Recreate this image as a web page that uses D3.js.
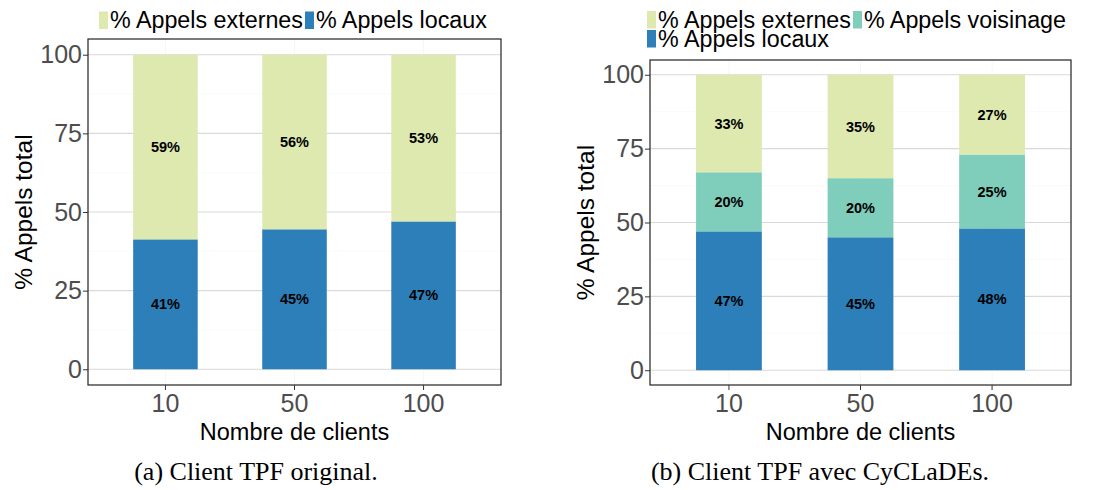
<!DOCTYPE html>
<html>
<head>
<meta charset="utf-8">
<script src="https://cdn.jsdelivr.net/npm/d3@7"></script>
<style>
  body { margin: 0; background: #fff; }
  svg { display: block; }
</style>
</head>
<body>
<div id="chart"></div>
<script>
const width = 1111, height = 490;

// data
const clients = ["10", "50", "100"];
const localA = [41.3, 44.5, 47];
const externA = [58.7, 55.5, 53];
const localB = [47, 45, 48];
const voisinB = [20, 20, 25];
const externB = [33, 35, 27];
const yTicks = [0, 25, 50, 75, 100];

const colors = {
  extern: "#dde9af",
  voisin: "#7fcdbb",
  local: "#2c7fb8"
};

const sans = "Liberation Sans, Arial, sans-serif";

const svg = d3.select("#chart").append("svg")
  .attr("width", width)
  .attr("height", height);

function panel(opts) {
  const {left, right, top, bottom, series, legendRows, caption, captionX} = opts;

  const x = d3.scaleLinear().domain([0.4, 3.6]).range([left, right]);
  const y = d3.scaleLinear().domain([-5, 105]).range([bottom, top]);
  const g = svg.append("g");

  // minor grid (very faint)
  g.append("g").selectAll("line").data([12.5, 37.5, 62.5, 87.5])
    .join("line")
    .attr("x1", left).attr("x2", right)
    .attr("y1", d => y(d)).attr("y2", d => y(d))
    .attr("stroke", "#f6f6f6").attr("stroke-width", 0.6);

  g.append("g").selectAll("line").data(clients)
    .join("line")
    .attr("x1", (d, i) => x(i + 1)).attr("x2", (d, i) => x(i + 1))
    .attr("y1", top).attr("y2", bottom)
    .attr("stroke", "#f6f6f6").attr("stroke-width", 1);

  // major grid
  g.append("g").selectAll("line").data(yTicks)
    .join("line")
    .attr("x1", left).attr("x2", right)
    .attr("y1", d => y(d)).attr("y2", d => y(d))
    .attr("stroke", "#d9d9d9").attr("stroke-width", 1.2);

  // stacked bars
  const rows = clients.map((c, i) => {
    const r = {i};
    series.forEach(s => { r[s.key] = s.values[i]; });
    return r;
  });
  const stack = d3.stack().keys(series.map(s => s.key))(rows);
  const barW = x(1.25) - x(0.75);

  stack.forEach(layer => {
    const s = series.find(s => s.key === layer.key);
    g.append("g").selectAll("rect").data(layer)
      .join("rect")
      .attr("x", (d, i) => x(i + 1) - barW / 2)
      .attr("width", barW)
      .attr("y", d => y(d[1]))
      .attr("height", d => y(d[0]) - y(d[1]))
      .attr("fill", s.color);

    g.append("g").selectAll("text").data(layer)
      .join("text")
      .attr("x", (d, i) => x(i + 1))
      .attr("y", d => y((d[0] + d[1]) / 2))
      .attr("dy", "0.35em")
      .attr("text-anchor", "middle")
      .attr("font-family", sans)
      .attr("font-weight", "bold")
      .attr("font-size", 14.5)
      .attr("fill", "#000")
      .text(d => Math.round(d[1] - d[0]) + "%");
  });

  // panel border
  g.append("rect")
    .attr("x", left).attr("y", top)
    .attr("width", right - left).attr("height", bottom - top)
    .attr("fill", "none")
    .attr("stroke", "#222").attr("stroke-width", 1.2);

  // y axis
  const yAxis = g.append("g")
    .attr("transform", `translate(${left},0)`)
    .call(d3.axisLeft(y).tickValues(yTicks).tickSize(5).tickPadding(1));
  yAxis.select(".domain").remove();
  yAxis.selectAll("line").attr("stroke", "#333");
  yAxis.selectAll("text")
    .attr("font-family", sans)
    .attr("font-size", 25).attr("fill", "#4d4d4d");

  // x axis
  const xb = d3.scaleBand().domain(clients)
    .range([x(0.5), x(3.5)]);
  const xAxis = g.append("g")
    .attr("transform", `translate(0,${bottom})`)
    .call(d3.axisBottom(xb).tickSize(5).tickPadding(4));
  xAxis.select(".domain").remove();
  xAxis.selectAll("line").attr("stroke", "#333");
  xAxis.selectAll("text")
    .attr("font-family", sans)
    .attr("font-size", 25).attr("fill", "#4d4d4d");

  // axis titles
  g.append("text")
    .attr("x", (left + right) / 2).attr("y", 440)
    .attr("text-anchor", "middle")
    .attr("font-family", sans)
    .attr("font-size", 23.5).attr("fill", "#000")
    .text("Nombre de clients");

  g.append("text")
    .attr("transform", `translate(${left - 65},${(top + bottom) / 2}) rotate(-90)`)
    .attr("text-anchor", "middle")
    .attr("dy", "0.35em")
    .attr("font-family", sans)
    .attr("font-size", 24.5).attr("fill", "#000")
    .text("% Appels total");

  // legend
  legendRows.forEach(row => {
    let cx = row.x;
    row.items.forEach(item => {
      g.append("rect")
        .attr("x", cx).attr("y", row.y - 16.5)
        .attr("width", 9).attr("height", 17.5)
        .attr("fill", item.color);
      const t = g.append("text")
        .attr("x", cx + 11).attr("y", row.y)
        .attr("font-family", sans)
        .attr("font-size", 23.3).attr("fill", "#000")
        .text(item.label);
      cx += 11 + t.node().getComputedTextLength() + 2;
    });
  });

  // caption
  g.append("text")
    .attr("x", captionX).attr("y", 480)
    .attr("text-anchor", "middle")
    .attr("font-family", "Liberation Serif, serif")
    .attr("font-size", 26).attr("fill", "#000")
    .text(caption);
}

panel({
  left: 88, right: 501, top: 39, bottom: 385,
  series: [
    {key: "local", values: localA, color: colors.local},
    {key: "extern", values: externA, color: colors.extern}
  ],
  legendRows: [
    {x: 99, y: 28, items: [
      {label: "% Appels externes", color: colors.extern},
      {label: "% Appels locaux", color: colors.local}
    ]}
  ],
  caption: "(a) Client TPF original.",
  captionX: 256
});

panel({
  left: 650, right: 1071, top: 60, bottom: 385,
  series: [
    {key: "local", values: localB, color: colors.local},
    {key: "voisin", values: voisinB, color: colors.voisin},
    {key: "extern", values: externB, color: colors.extern}
  ],
  legendRows: [
    {x: 647, y: 27.5, items: [
      {label: "% Appels externes", color: colors.extern},
      {label: "% Appels voisinage", color: colors.voisin}
    ]},
    {x: 647, y: 46.5, items: [
      {label: "% Appels locaux", color: colors.local}
    ]}
  ],
  caption: "(b) Client TPF avec CyCLaDEs.",
  captionX: 820
});
</script>
</body>
</html>
